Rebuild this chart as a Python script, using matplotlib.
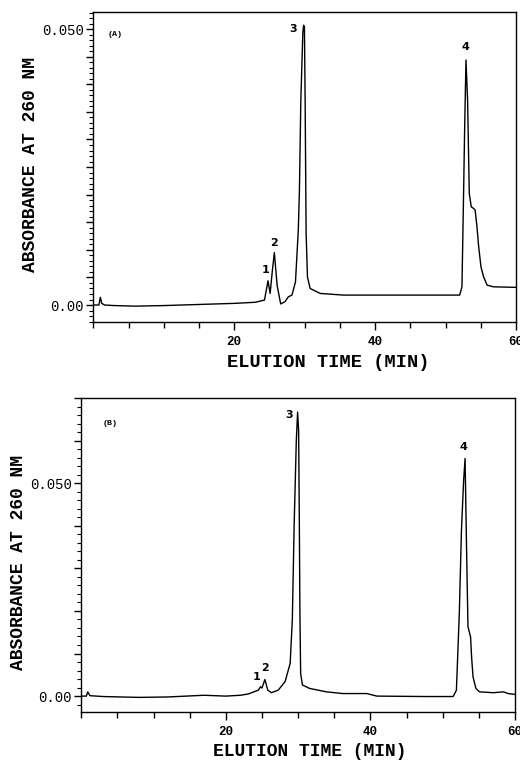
import matplotlib
import matplotlib.pyplot as plt
from matplotlib.ticker import MultipleLocator, FixedLocator

matplotlib.use('Agg')

# chromatogram (A)
time_a = [0.0, 0.8, 1.0, 1.2, 1.6, 3.0, 6.0, 10.0, 15.0, 20.0, 23.0, 24.3,
          24.6, 24.8, 25.1, 25.4, 25.7, 26.1, 26.6, 27.2, 27.7, 28.2, 28.7,
          29.1, 29.26, 29.46, 29.74, 29.85, 29.97, 30.07, 30.21, 30.4, 30.78,
          32.2, 35.5, 40.0, 45.0, 52.0, 52.33, 52.56, 52.7, 52.9, 53.13,
          53.37, 53.65, 53.98, 54.2, 54.46, 54.7, 55.03, 55.4, 55.9, 56.8,
          60.0]
abs_a = [0.0, 0.0, 0.0014, 0.0003, 0.0, -0.0001, -0.0002, -0.0001, 0.0001,
         0.0003, 0.0005, 0.0009, 0.0030, 0.0044, 0.0021, 0.0060, 0.0095,
         0.0035, 0.0002, 0.0006, 0.0015, 0.0018, 0.0042, 0.0136, 0.0208,
         0.0371, 0.0492, 0.0507, 0.0504, 0.0371, 0.0130, 0.0051, 0.0030,
         0.0021, 0.0018, 0.0018, 0.0018, 0.0018, 0.0033, 0.0202, 0.0311,
         0.0444, 0.0371, 0.0202, 0.0178, 0.0175, 0.0172, 0.0142, 0.0106,
         0.0069, 0.0051, 0.0036, 0.0033, 0.0032]

# chromatogram (B)
time_b = [0.0, 0.7, 0.9, 1.2, 3.0, 8.0, 12.0, 17.0, 20.0, 22.0, 23.1, 24.5,
          24.8, 25.0, 25.4, 25.8, 26.3, 27.25, 28.2, 28.9, 29.2, 29.45,
          29.75, 29.93, 30.07, 30.16, 30.25, 30.35, 30.6, 31.6, 33.9, 36.2,
          39.5, 40.9, 47.8, 51.45, 51.9, 52.3, 52.6, 52.9, 53.1, 53.3, 53.5,
          53.86, 54.0, 54.2, 54.6, 55.1, 57.0, 58.4, 59.06, 60.0]
abs_b = [0.0, 0.0, 0.0010, 0.0001, -0.0001, -0.0003, -0.0002, 0.0002, 0.0,
         0.0002, 0.0005, 0.0014, 0.0022, 0.0019, 0.0039, 0.0014, 0.0008,
         0.0014, 0.0034, 0.0077, 0.0180, 0.0400, 0.0600, 0.0667, 0.0624,
         0.0429, 0.0194, 0.0053, 0.0026, 0.0018, 0.0010, 0.0006, 0.0006,
         0.0, -0.0001, -0.0001, 0.0014, 0.0194, 0.0390, 0.0507, 0.0558,
         0.0350, 0.0163, 0.0139, 0.0092, 0.0045, 0.0018, 0.0010, 0.0008,
         0.0010, 0.0006, 0.0004]

# peak numbers: (label, time, absorbance)
peaks_a = [('1', 24.5, 0.0063), ('2', 25.7, 0.0112), ('3', 28.4, 0.0501), ('4', 52.8, 0.0468)]
peaks_b = [('1', 24.3, 0.0044), ('2', 25.4, 0.0065), ('3', 28.8, 0.0660), ('4', 52.9, 0.0585)]

FONT = 'Liberation Mono'


def style_axes(ax, ylim, ymajor, yminor, tag, tag_xy):
    ax.set_xlim(0, 60)
    ax.set_ylim(*ylim)
    ax.xaxis.set_major_locator(FixedLocator([20, 40, 60]))
    ax.xaxis.set_minor_locator(MultipleLocator(5))
    ax.yaxis.set_major_locator(MultipleLocator(ymajor))
    ax.yaxis.set_minor_locator(MultipleLocator(yminor))
    ax.yaxis.set_major_formatter(plt.FuncFormatter(
        lambda v, p: '0.050' if abs(v - 0.05) < 1e-6 else ('0.00' if abs(v) < 1e-6 else '')))
    ax.tick_params(axis='x', which='major', length=6, width=1, pad=4, labelsize=9)
    ax.tick_params(axis='x', which='minor', length=4, width=1)
    ax.tick_params(axis='y', which='major', length=5, width=1, pad=2, labelsize=10)
    ax.tick_params(axis='y', which='minor', length=3, width=0.8)
    for lab in ax.get_xticklabels():
        lab.set_fontfamily(FONT)
        lab.set_fontweight('bold')
    for lab in ax.get_yticklabels():
        lab.set_fontfamily(FONT)
    for sp in ax.spines.values():
        sp.set_linewidth(1.0)
    ax.text(tag_xy[0], tag_xy[1], tag, fontsize=6, family=FONT, fontweight='bold',
            ha='center', va='center')


fig = plt.figure(figsize=(5.2, 7.65), dpi=100)

ax1 = fig.add_axes([0.1794, 0.5787, 0.8129, 0.4056])
ax1.plot(time_a, abs_a, color='black', lw=1.0)
style_axes(ax1, (-0.00313, 0.0531), 0.005, 0.001, '(A)', (3.1, 0.049))
for t, x, y in peaks_a:
    ax1.text(x, y, t, fontsize=8, fontweight='bold', family='DejaVu Sans',
             ha='center', va='center')
ax1.set_xlabel('ELUTION TIME (MIN)', family=FONT, fontweight='bold', fontsize=13.5)
ax1.xaxis.set_label_coords(0.555, -0.131)
ax1.xaxis.label.set_va('center')
ax1.set_ylabel('ABSORBANCE AT 260 NM', family=FONT, fontweight='bold', fontsize=13)
ax1.yaxis.set_label_coords(-0.149, 0.51)
ax1.yaxis.label.set_va('center')

ax2 = fig.add_axes([0.1563, 0.0689, 0.834, 0.4108])
ax2.plot(time_b, abs_b, color='black', lw=1.0)
style_axes(ax2, (-0.0038, 0.070), 0.01, 0.002, '(B)', (4.0, 0.064))
for t, x, y in peaks_b:
    ax2.text(x, y, t, fontsize=8, fontweight='bold', family='DejaVu Sans',
             ha='center', va='center')
ax2.set_xlabel('ELUTION TIME (MIN)', family=FONT, fontweight='bold', fontsize=13)
ax2.xaxis.set_label_coords(0.527, -0.125)
ax2.xaxis.label.set_va('center')
ax2.set_ylabel('ABSORBANCE AT 260 NM', family=FONT, fontweight='bold', fontsize=13)
ax2.yaxis.set_label_coords(-0.145, 0.478)
ax2.yaxis.label.set_va('center')

fig.savefig('out.png', dpi=100)
